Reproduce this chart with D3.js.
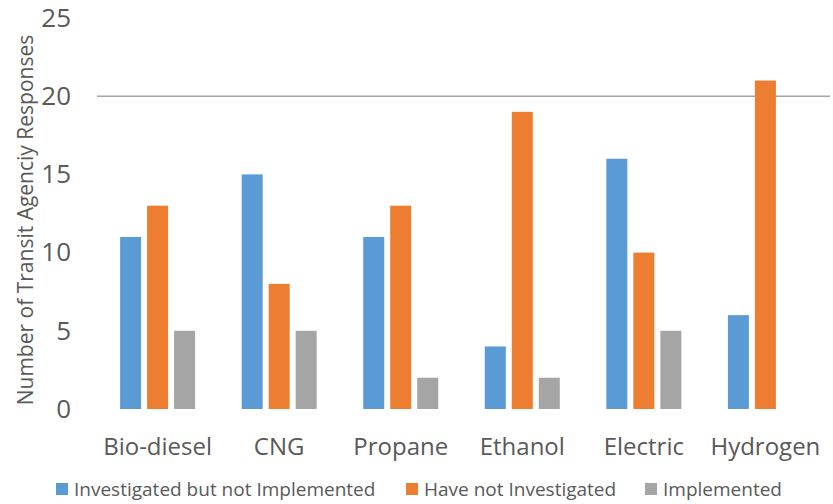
<!DOCTYPE html>
<html>
<head>
<meta charset="utf-8">
<title>Alternative fuels</title>
<script src="https://cdn.jsdelivr.net/npm/d3@7"></script>
<style>
  body { margin: 0; background: #fff; }
  text { font-family: "Open Sans", sans-serif; fill: #595959; }
</style>
</head>
<body>
<svg id="chart"></svg>
<script>
const categories = ["Bio-diesel", "CNG", "Propane", "Ethanol", "Electric", "Hydrogen"];
const seriesNames = ["Investigated but not Implemented", "Have not Investigated", "Implemented"];
const investigated = [11, 15, 11, 4, 16, 6];
const notInvestigated = [13, 8, 13, 19, 10, 21];
const implemented = [5, 5, 2, 2, 5, 0];
const yTicks = [0, 5, 10, 15, 20, 25];
const colors = ["#5B9BD5", "#ED7D31", "#A5A5A5"];

const width = 833, height = 504;
const margin = { top: 18, right: 7, bottom: 95, left: 97 };
const series = [investigated, notInvestigated, implemented];

const svg = d3.select("#chart").attr("width", width).attr("height", height);

const x0 = d3.scaleBand().domain(categories)
  .range([margin.left, width - margin.right]).paddingInner(0.383).paddingOuter(0.19);
const x1 = d3.scaleBand().domain(d3.range(3))
  .range([0, x0.bandwidth()]).paddingInner(0.222);
const y = d3.scaleLinear().domain([0, 25]).range([height - margin.bottom, margin.top]);

// gridline (only 20 visible in original)
svg.append("line")
  .attr("x1", margin.left).attr("x2", 830)
  .attr("y1", y(20)).attr("y2", y(20))
  .attr("stroke", "#a6a6a6").attr("stroke-width", 1.5);

// y tick labels
const yAxis = svg.append("g")
  .attr("transform", `translate(${margin.left - 26},0)`)
  .call(d3.axisLeft(y).tickValues(yTicks).tickSize(0).tickPadding(0));
yAxis.select(".domain").remove();
yAxis.selectAll("text").style("font-size", "26px").attr("fill", "#595959")
  .style("font-family", "'Open Sans', sans-serif");

// bars
const groups = svg.append("g").selectAll("g")
  .data(categories)
  .join("g")
  .attr("transform", d => `translate(${x0(d)},0)`);

groups.selectAll("rect")
  .data((c, i) => series.map((s, k) => ({ k, v: s[i] })))
  .join("rect")
  .attr("x", d => x1(d.k))
  .attr("width", x1.bandwidth())
  .attr("y", d => y(d.v))
  .attr("height", d => y(0) - y(d.v))
  .attr("fill", d => colors[d.k]);

// category labels
const xAxis = svg.append("g")
  .attr("transform", `translate(0,${y(0) + 19})`)
  .call(d3.axisBottom(x0).tickSize(0).tickPadding(10));
xAxis.select(".domain").remove();
xAxis.selectAll("text").style("font-size", "24px").attr("fill", "#595959")
  .style("font-family", "'Open Sans', sans-serif");

// y title
svg.append("text")
  .attr("transform", `translate(33,${(y(0) + 25) / 2 + 3}) rotate(-90)`)
  .attr("text-anchor", "middle")
  .style("font-size", "21px")
  .text("Number of Transit Agenciy Responses");

// legend
const legendX = [56, 406, 645];
const legend = svg.append("g").selectAll("g")
  .data(seriesNames)
  .join("g")
  .attr("transform", (d, i) => `translate(${legendX[i]},489)`);
legend.append("rect")
  .attr("x", 0).attr("y", -6).attr("width", 12).attr("height", 12)
  .attr("fill", (d, i) => colors[i]);
legend.append("text")
  .attr("x", 18).attr("dy", "0.35em")
  .style("font-size", "19px")
  .text(d => d);
</script>
</body>
</html>
